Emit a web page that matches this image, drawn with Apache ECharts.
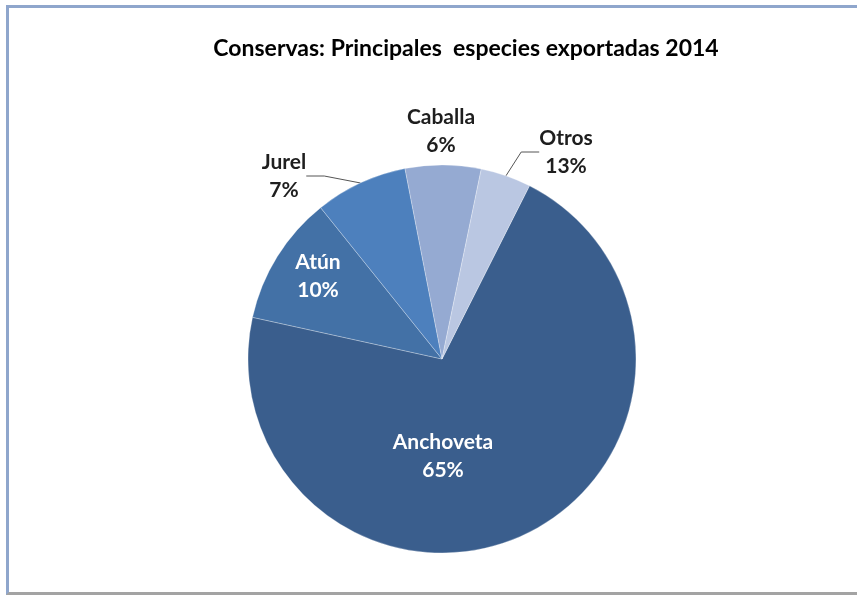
<!DOCTYPE html>
<html>
<head>
<meta charset="utf-8">
<script src="https://cdn.jsdelivr.net/npm/echarts@6/dist/echarts.min.js"></script>
<style>
  html, body { margin: 0; padding: 0; background: #fff; }
  #chart { position: absolute; left: 0; top: 0; width: 857px; height: 597px; }
  #frame { position: absolute; left: 6px; top: 5px; width: 900px; height: 584px;
           border-top: 3px solid #8FA6CC; border-left: 3px solid #8FA6CC; border-bottom: 3px solid #A3A3A3;
           pointer-events: none; }
</style>
</head>
<body>
<div id="chart"></div>
<div id="frame"></div>
<script>
const titleText = 'Conservas: Principales  especies exportadas 2014';
const categories = ['Anchoveta', 'Atún', 'Jurel', 'Caballa', 'Otros'];
const sliceValues = [71.0, 10.8, 7.7, 6.3, 4.2];
const labelPercents = ['65%', '10%', '7%', '6%', '13%'];

const colors = ['#3A5E8D', '#4371A6', '#4D80BD', '#95AAD2', '#BAC7E2'];
const insideLabel = [true, true, false, false, false];
const showLine = [false, false, true, false, true];
const labelCenters = [[443, 456], [318, 276], [284, 176], [441, 131], [566, 152]];

const data = categories.map((c, i) => ({
  name: c,
  value: sliceValues[i],
  itemStyle: { color: colors[i] },
  label: {
    position: insideLabel[i] ? 'inside' : 'outside',
    color: insideLabel[i] ? '#FFFFFF' : '#1E1E1E',
    formatter: c + '\n' + labelPercents[i]
  },
  labelLine: { show: showLine[i] }
}));

const chart = echarts.init(document.getElementById('chart'), null, { renderer: 'canvas' });
chart.setOption({
  animation: false,
  backgroundColor: '#FFFFFF',
  title: {
    text: titleText,
    left: 461, top: 32, textAlign: 'center',
    textStyle: { fontFamily: 'Lato', fontWeight: 'bold', fontSize: 23, color: '#000' }
  },
  series: [{
    type: 'pie',
    center: [442, 359],
    radius: [0, 194],
    startAngle: 63.2,
    clockwise: true,
    data: data,
    itemStyle: { borderColor: 'rgba(255,255,255,0.35)', borderWidth: 0.8 },
    label: {
      fontFamily: 'Lato', fontWeight: 'bold', fontSize: 21, lineHeight: 28, align: 'center'
    },
    labelLine: { length: 12, length2: 18, lineStyle: { color: '#555', width: 1 } },
    labelLayout: function (p) {
      const c = labelCenters[p.dataIndex];
      return { x: c[0], y: c[1], align: 'center', verticalAlign: 'middle' };
    }
  }]
});
</script>
</body>
</html>
